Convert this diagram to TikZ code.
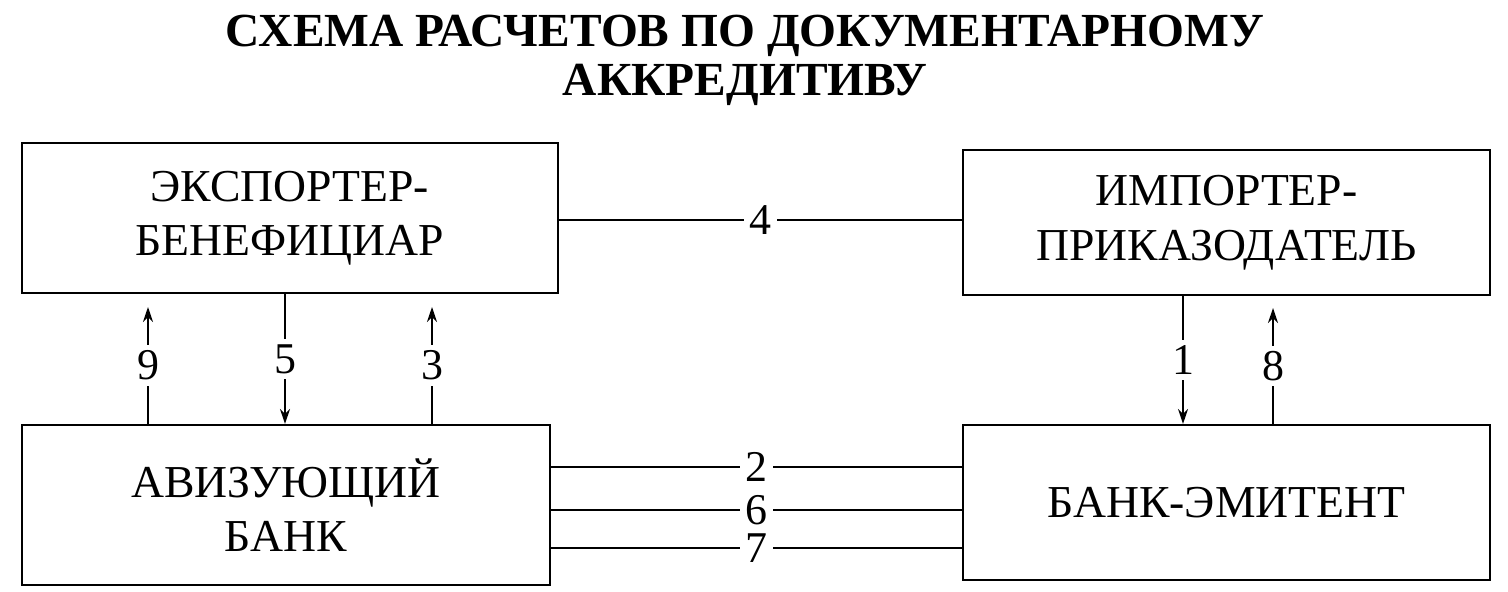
\documentclass[tikz,border=0pt]{standalone}
\usepackage{fontspec}
\setmainfont{Liberation Serif}
\usetikzlibrary{positioning, arrows.meta, calc}

\begin{document}
\begin{tikzpicture}[
    box/.style={rectangle, draw=black, line width=1.2pt, align=center, font=\fontsize{26}{31}\selectfont},
    arrow/.style={-{Stealth[length=3mm,width=2mm]}, line width=1pt},
    link/.style={line width=1pt},
    num/.style={fill=white, inner xsep=3pt, inner ysep=0pt, font=\fontsize{25}{26}\selectfont}
]
    \useasboundingbox (0,0) rectangle (30.16,-11.84);

    % Title
    \node[font=\bfseries\fontsize{27}{28}\selectfont, align=center] (title) at (14.9,-1.2) {СХЕМА РАСЧЕТОВ ПО ДОКУМЕНТАРНОМУ\\АККРЕДИТИВУ};

    % Nodes
    \node[box, minimum width=10.72cm, minimum height=3.0cm] (exp) at (5.8,-4.36) {ЭКСПОРТЕР-\\БЕНЕФИЦИАР};
    \node[box, minimum width=10.54cm, minimum height=2.9cm] (imp) at (24.53,-4.45) {ИМПОРТЕР-\\ПРИКАЗОДАТЕЛЬ};
    \node[box, minimum width=10.56cm, minimum height=3.2cm] (avb) at (5.72,-10.1) {АВИЗУЮЩИЙ\\БАНК};
    \node[box, minimum width=10.54cm, minimum height=3.1cm] (emb) at (24.53,-10.05) {БАНК-ЭМИТЕНТ};

    % Connectors
    \draw[link] (exp.east |- 0,-4.4) -- (imp.west |- 0,-4.4) node[midway, num] {4};
    \draw[link] (avb.east |- 0,-9.34) -- (emb.west |- 0,-9.34) node[midway, num] {2};
    \draw[link] (avb.east |- 0,-10.2) -- (emb.west |- 0,-10.2) node[midway, num] {6};
    \draw[link] (avb.east |- 0,-10.96) -- (emb.west |- 0,-10.96) node[midway, num] {7};

    \draw[arrow] (avb.north -| 2.96,0) -- (2.96,-6.14) node[pos=0.5, num, inner ysep=3pt] {9};
    \draw[arrow] (exp.south -| 5.7,0) -- (avb.north -| 5.7,0) node[midway, num, inner ysep=3pt] {5};
    \draw[arrow] (avb.north -| 8.64,0) -- (8.64,-6.14) node[pos=0.5, num, inner ysep=3pt] {3};
    \draw[arrow] (imp.south -| 23.66,0) -- (emb.north -| 23.66,0) node[midway, num, inner ysep=3pt] {1};
    \draw[arrow] (emb.north -| 25.46,0) -- (25.46,-6.16) node[pos=0.5, num, inner ysep=3pt] {8};

\end{tikzpicture}
\end{document}
